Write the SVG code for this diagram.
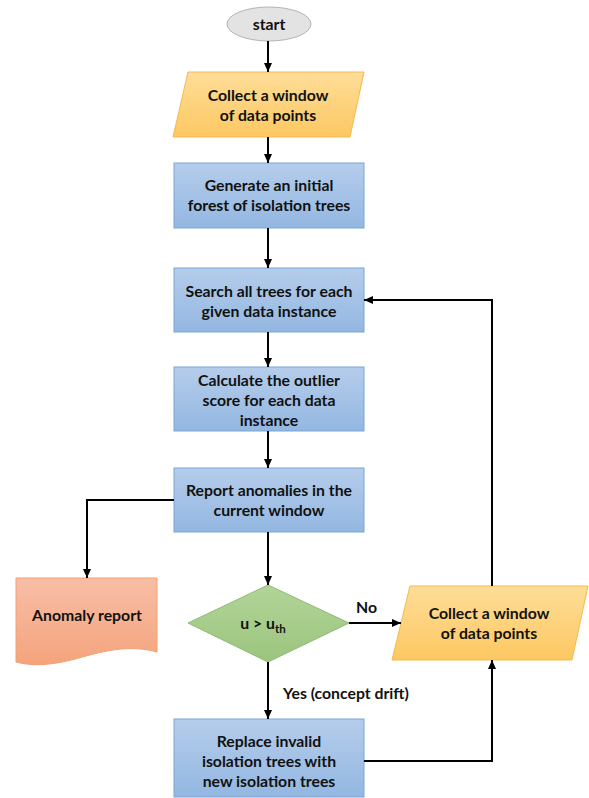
<svg xmlns="http://www.w3.org/2000/svg" width="589" height="798" viewBox="0 0 589 798">
<defs>
<linearGradient id="gBlue" x1="0" y1="0" x2="0" y2="1"><stop offset="0" stop-color="#b5cdeb"/><stop offset="1" stop-color="#93b7e1"/></linearGradient>
<linearGradient id="gYellow" x1="0" y1="0" x2="0" y2="1"><stop offset="0" stop-color="#fedd98"/><stop offset="1" stop-color="#fdc862"/></linearGradient>
<linearGradient id="gGreen" x1="0" y1="0" x2="0" y2="1"><stop offset="0" stop-color="#b2d498"/><stop offset="1" stop-color="#9bc57e"/></linearGradient>
<linearGradient id="gOrange" x1="0" y1="0" x2="0" y2="1"><stop offset="0" stop-color="#f8bea7"/><stop offset="1" stop-color="#f4a47c"/></linearGradient>
<marker id="arr" markerWidth="10" markerHeight="10" refX="9" refY="5" orient="auto" markerUnits="userSpaceOnUse"><path d="M0,1 L9,5 L0,9 Z" fill="#000"/></marker>
</defs>
<style>
.t{font-family:Lato,"Liberation Sans",sans-serif;font-weight:bold;font-size:15.8px;fill:#111;text-anchor:middle}
.l{text-anchor:start}
.blue{fill:url(#gBlue);stroke:#7ba4d6;stroke-width:1}
.yel{fill:url(#gYellow);stroke:#f2bb4c;stroke-width:1}
.c{fill:none;stroke:#000;stroke-width:2;marker-end:url(#arr)}
</style>
<rect width="589" height="798" fill="#fff"/>
<g id="start">
<ellipse cx="269" cy="24" rx="42" ry="17" fill="#e3e3e3" stroke="#b3b3b3"/>
<text class="t" x="269" y="30">start</text>
</g>
<g id="collect1">
<polygon class="yel" points="188,72 364,72 350,137 173,137"/>
<text class="t" x="268" y="101">Collect a window</text>
<text class="t" x="268" y="121">of data points</text>
</g>
<g id="generate">
<rect class="blue" x="174" y="163" width="190" height="65"/>
<text class="t" x="269" y="191">Generate an initial</text>
<text class="t" x="269" y="211">forest of isolation trees</text>
</g>
<g id="search">
<rect class="blue" x="174" y="268" width="190" height="64"/>
<text class="t" x="269" y="297">Search all trees for each</text>
<text class="t" x="269" y="317">given data instance</text>
</g>
<g id="calculate">
<rect class="blue" x="174" y="367" width="190" height="64"/>
<text class="t" x="269" y="386">Calculate the outlier</text>
<text class="t" x="269" y="406">score for each data</text>
<text class="t" x="269" y="426">instance</text>
</g>
<g id="report">
<rect class="blue" x="174" y="468" width="190" height="64"/>
<text class="t" x="269" y="496">Report anomalies in the</text>
<text class="t" x="269" y="516">current window</text>
</g>
<g id="anomaly">
<path d="M16,578 H157 V652 C132,645 108,650 86,656 C62,663 38,668 16,662 Z" fill="url(#gOrange)" stroke="#f3a071"/>
<text class="t" x="87" y="621">Anomaly report</text>
</g>
<g id="decision">
<polygon points="268,585 349,623 268,662 188,623" fill="url(#gGreen)" stroke="#8ebb73"/>
<text class="t" x="263" y="629">u &gt; u<tspan font-size="11.5" dy="4">th</tspan></text>
</g>
<g id="collect2">
<polygon class="yel" points="410,586 588,586 572,660 392,660"/>
<text class="t" x="489" y="619">Collect a window</text>
<text class="t" x="489" y="639">of data points</text>
</g>
<g id="replace">
<rect class="blue" x="174" y="719" width="190" height="78"/>
<text class="t" x="269" y="747">Replace invalid</text>
<text class="t" x="269" y="767">isolation trees with</text>
<text class="t" x="269" y="787">new isolation trees</text>
</g>
<g id="connectors">
<line class="c" x1="268" y1="41" x2="268" y2="72"/>
<line class="c" x1="268" y1="137" x2="268" y2="163"/>
<line class="c" x1="268" y1="228" x2="268" y2="268"/>
<line class="c" x1="268" y1="332" x2="268" y2="367"/>
<line class="c" x1="268" y1="431" x2="268" y2="468"/>
<line class="c" x1="268" y1="532" x2="268" y2="585"/>
<polyline class="c" points="174,500 87,500 87,578"/>
<line class="c" x1="349" y1="623" x2="401" y2="623"/>
<line class="c" x1="268" y1="662" x2="268" y2="719"/>
<polyline class="c" points="364,761 492,761 492,660"/>
<polyline class="c" points="492,586 492,300 364,300"/>
<text class="t l" x="356" y="613">No</text>
<text class="t l" x="283" y="699">Yes (concept drift)</text>
</g>
</svg>
